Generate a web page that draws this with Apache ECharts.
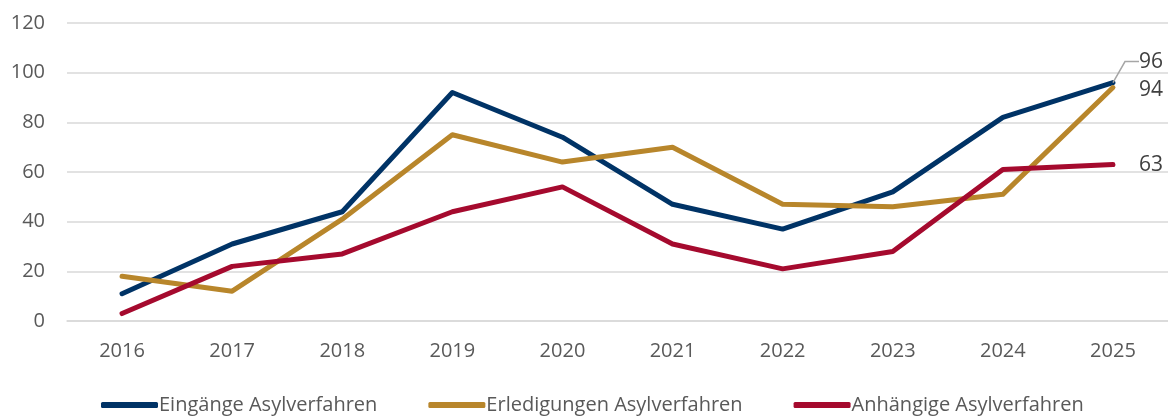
<!DOCTYPE html>
<html>
<head>
<meta charset="utf-8">
<script src="https://cdn.jsdelivr.net/npm/echarts@6/dist/echarts.min.js"></script>
<style>
html, body { margin: 0; padding: 0; background: #fff; }
#chart { width: 1168px; height: 416px; }
</style>
</head>
<body>
<div id="chart"></div>
<script>
var years = ['2016', '2017', '2018', '2019', '2020', '2021', '2022', '2023', '2024', '2025'];
var eingaenge = [11, 31, 44, 92, 74, 47, 37, 52, 82, 96];
var erledigungen = [18, 12, 41, 75, 64, 70, 47, 46, 51, 94];
var anhaengige = [3, 22, 27, 44, 54, 31, 21, 28, 61, 63];
var yTicks = [0, 20, 40, 60, 80, 100, 120];

var chart = echarts.init(document.getElementById('chart'));

// label only the last point of each line
function withEndLabel(values, leader) {
    return values.map(function (v, i) {
        if (i !== values.length - 1) return v;
        return {
            value: v,
            label: { show: true },
            labelLine: { show: leader }
        };
    });
}

function makeSeries(name, data, color, layout, leader) {
    return {
        name: name,
        type: 'line',
        data: withEndLabel(data, leader),
        symbol: 'circle',
        symbolSize: 0.1,
        showSymbol: true,
        clip: false,
        lineStyle: { width: 5, color: color, cap: 'round', join: 'round' },
        itemStyle: { color: color },
        label: {
            show: false,
            position: 'right',
            distance: 22,
            fontSize: 21,
            color: '#404040',
            fontFamily: 'Open Sans',
            padding: [0, 0, 0, 4]
        },
        labelLine: { show: false, length2: 14, lineStyle: { color: '#a6a6a6', width: 1.5 } },
        labelLayout: layout
    };
}

var option = {
    animation: false,
    grid: { left: 67, right: 0, top: 23, bottom: 95 },
    legend: {
        left: 96,
        top: 390,
        itemWidth: 57,
        itemHeight: 6,
        itemGap: 51,
        icon: 'roundRect',
        textStyle: { fontSize: 20, color: '#595959', fontFamily: 'Open Sans', padding: [0, 0, 0, -4] },
        data: ['Eingänge Asylverfahren', 'Erledigungen Asylverfahren', 'Anhängige Asylverfahren']
    },
    xAxis: {
        type: 'category',
        data: years,
        boundaryGap: true,
        axisLine: { lineStyle: { color: '#d9d9d9', width: 1.5 } },
        axisTick: { show: false },
        axisLabel: { fontSize: 20, color: '#595959', fontFamily: 'Open Sans', margin: 20 }
    },
    yAxis: {
        type: 'value',
        min: yTicks[0],
        max: yTicks[yTicks.length - 1],
        interval: 20,
        axisLine: { show: false },
        axisTick: { show: false },
        splitLine: { lineStyle: { color: '#d9d9d9', width: 1.5 } },
        axisLabel: { fontSize: 20, color: '#595959', fontFamily: 'Open Sans', margin: 22 }
    },
    series: [
        makeSeries('Eingänge Asylverfahren', eingaenge, '#003366', { dy: -21 }, true),
        makeSeries('Erledigungen Asylverfahren', erledigungen, '#b8862b', { dy: 2 }, false),
        makeSeries('Anhängige Asylverfahren', anhaengige, '#a50a2e', { dy: 0 }, false)
    ]
};

chart.setOption(option);
</script>
</body>
</html>
